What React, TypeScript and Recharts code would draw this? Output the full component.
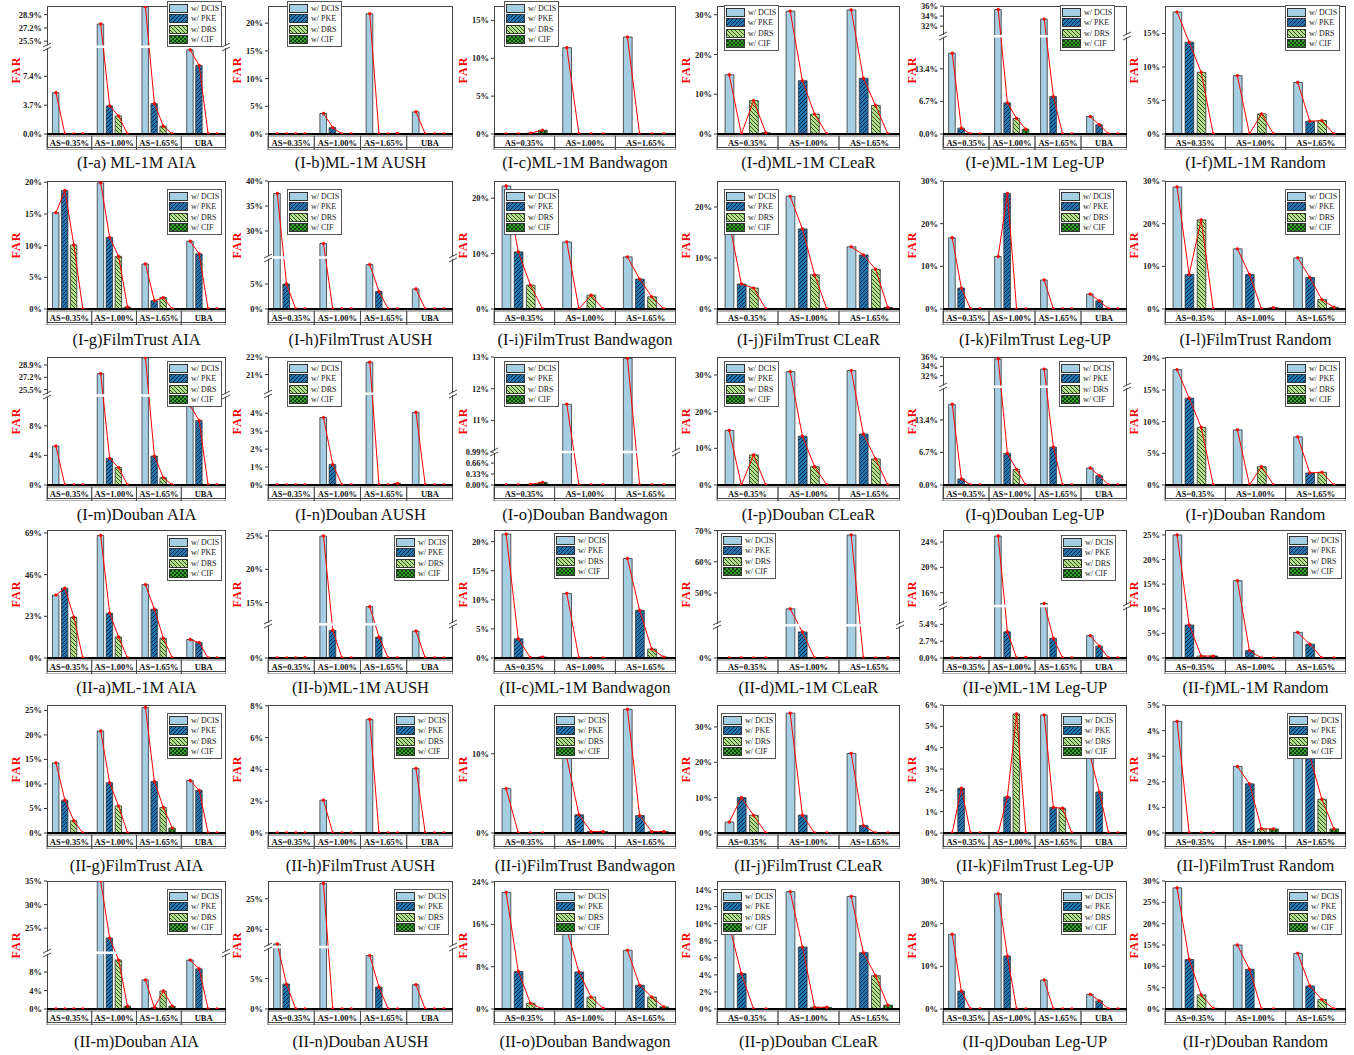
import { ComposedChart, Bar, Line, XAxis, YAxis, Cell, ReferenceLine } from 'recharts';

const FONT = '"Liberation Serif", "Times New Roman", serif';

const CATEGORIES = ['AS=0.35%', 'AS=1.00%', 'AS=1.65%', 'UBA'];
const METHODS = ['w/ DCIS', 'w/ PKE', 'w/ DRS', 'w/ CIF'];
const FILLS = ['#a6cee3', 'url(#hatch-pke)', 'url(#hatch-drs)', 'url(#hatch-cif)'];

// FAR (%) per attack size, each row: [w/ DCIS, w/ PKE, w/ DRS, w/ CIF]
const I_A = [[5.3, 0, 0, 0], [27.7, 3.6, 2.3, 0], [29.9, 3.9, 1.0, 0], [10.8, 8.8, 0, 0]];
const I_B = [[0, 0, 0, 0], [3.7, 1.15, 0, 0], [21.7, 0, 0, 0.1], [4.0, 0, 0, 0]];
const I_C = [[0, 0, 0.1, 0.5], [11.4, 0, 0, 0], [12.8, 0, 0, 0]];
const I_D = [[14.9, 0, 8.4, 0.3], [30.9, 13.4, 5.0, 0], [31.2, 14.0, 7.2, 0]];
const I_E = [[16.6, 1.2, 0, 0], [35.3, 6.4, 3.2, 1.0], [33.4, 7.7, 0, 0], [3.6, 1.9, 0, 0]];
const I_F = [[18.2, 13.7, 9.2, 0], [8.7, 0, 3.0, 0], [7.7, 1.9, 2.0, 0]];
const I_G = [[15.2, 18.7, 10.1, 0], [19.9, 11.3, 8.3, 0.3], [7.1, 1.3, 1.8, 0], [10.7, 8.7, 0, 0]];
const I_H = [[37.5, 5.0, 0, 0], [27.5, 0, 0, 0], [8.9, 3.5, 0, 0], [4.0, 0, 0, 0]];
const I_I = [[22.2, 10.3, 4.3, 0], [12.1, 0, 2.5, 0], [9.4, 5.4, 2.2, 0]];
const I_J = [[17.0, 4.9, 4.1, 0], [22.1, 15.7, 6.7, 0], [12.2, 10.6, 7.8, 0.3]];
const I_K = [[16.7, 4.9, 0, 0], [12.3, 27.1, 0, 0], [6.8, 0, 0, 0], [3.5, 1.9, 0, 0]];
const I_L = [[28.6, 8.1, 20.9, 0], [14.1, 8.1, 0, 0.3], [12.0, 7.4, 2.2, 0.4]];
const I_M = [[5.25, 0, 0, 0], [27.7, 3.6, 2.35, 0], [29.9, 3.9, 1.0, 0], [10.7, 8.7, 0, 0]];
const I_N = [[0, 0, 0, 0], [3.76, 1.14, 0, 0], [21.7, 0, 0, 0.09], [4.05, 0, 0, 0]];
const I_O = [[0, 0, 0.02, 0.08], [11.51, 0, 0, 0], [12.96, 0, 0, 0]];
const I_P = [[14.9, 0, 8.2, 0], [30.9, 13.3, 5.0, 0], [31.2, 13.9, 7.1, 0]];
const I_Q = [[16.6, 1.25, 0, 0], [35.6, 6.5, 3.2, 0], [33.4, 7.8, 0, 0], [3.5, 1.9, 0, 0]];
const I_R = [[18.2, 13.7, 9.1, 0], [8.7, 0, 2.9, 0], [7.6, 1.9, 2.0, 0]];
const II_A = [[34.7, 38.5, 22.5, 0], [67.6, 24.7, 11.6, 0], [40.5, 26.9, 10.9, 0], [10.2, 8.5, 0, 0]];
const II_B = [[0, 0, 0, 0.05], [25.0, 4.1, 0, 0], [14.4, 3.1, 0, 0], [4.0, 0, 0, 0]];
const II_C = [[21.3, 3.3, 0.05, 0.15], [11.1, 0, 0, 0], [17.1, 8.2, 1.55, 0.15]];
const II_D = [[0, 0, 0, 0], [44.9, 8.3, 0, 0], [68.6, 0, 0, 0.1]];
const II_E = [[0, 0, 0, 0.1], [24.95, 4.2, 0, 0.1], [14.3, 3.15, 0, 0], [3.6, 1.9, 0, 0]];
const II_F = [[25.0, 6.7, 0.4, 0.4], [15.7, 1.5, 0, 0], [5.2, 2.8, 0, 0]];
const II_G = [[14.3, 6.7, 2.5, 0], [20.8, 10.25, 5.5, 0], [25.6, 10.5, 5.2, 1.0], [10.7, 8.7, 0, 0]];
const II_H = [[0, 0, 0, 0], [2.06, 0, 0, 0], [7.15, 0, 0, 0], [4.06, 0, 0, 0]];
const II_I = [[5.6, 0, 0, 0], [9.5, 2.3, 0.17, 0.17], [15.6, 2.2, 0.17, 0.17]];
const II_J = [[3.1, 10.0, 5.0, 0], [33.9, 5.05, 0, 0], [22.5, 2.1, 0, 0]];
const II_K = [[0, 2.1, 0, 0], [0, 1.69, 5.58, 0], [5.53, 1.2, 1.16, 0], [3.6, 1.92, 0, 0]];
const II_L = [[4.36, 0, 0, 0], [2.6, 1.92, 0.16, 0.16], [3.3, 3.0, 1.32, 0.16]];
const II_M = [[0, 0, 0, 0], [35.0, 22.9, 10.6, 0.6], [6.3, 0.3, 3.9, 0.6], [10.6, 8.7, 0, 0]];
const II_N = [[17.6, 4.1, 0, 0], [27.5, 0, 0, 0], [8.8, 3.6, 0, 0], [4.0, 0, 0, 0]];
const II_O = [[22.05, 7.1, 1.1, 0], [15.0, 7.0, 2.25, 0.1], [11.1, 4.5, 2.25, 0.4]];
const II_P = [[9.8, 4.15, 0, 0], [13.75, 7.26, 0.2, 0.2], [13.2, 6.6, 3.9, 0.45]];
const II_Q = [[17.5, 4.2, 0, 0], [27.0, 12.4, 0, 0], [6.8, 0, 0, 0], [3.45, 1.9, 0, 0]];
const II_R = [[28.4, 11.6, 3.3, 0.15], [15.0, 9.3, 0, 0], [13.05, 5.4, 2.2, 0]];

// y tick labels
const Y_I_A = ['0.0%', '3.7%', '7.4%', '25.5%', '27.2%', '28.9%'];
const Y_I_B = ['0%', '5%', '10%', '15%', '20%'];
const Y_I_C = ['0%', '5%', '10%', '15%'];
const Y_I_D = ['0%', '10%', '20%', '30%'];
const Y_I_E = ['0.0%', '6.7%', '13.4%', '32%', '34%', '36%'];
const Y_I_F = ['0%', '5%', '10%', '15%'];
const Y_I_G = ['0%', '5%', '10%', '15%', '20%'];
const Y_I_H = ['0%', '5%', '30%', '35%', '40%'];
const Y_I_I = ['0%', '10%', '20%'];
const Y_I_J = ['0%', '10%', '20%'];
const Y_I_K = ['0%', '10%', '20%', '30%'];
const Y_I_L = ['0%', '10%', '20%', '30%'];
const Y_I_M = ['0%', '4%', '8%', '25.5%', '27.2%', '28.9%'];
const Y_I_N = ['0%', '1%', '2%', '3%', '4%', '21%', '22%'];
const Y_I_O = ['0.00%', '0.33%', '0.66%', '0.99%', '11%', '12%', '13%'];
const Y_I_P = ['0%', '10%', '20%', '30%'];
const Y_I_Q = ['0.0%', '6.7%', '13.4%', '32%', '34%', '36%'];
const Y_I_R = ['0%', '5%', '10%', '15%', '20%'];
const Y_II_A = ['0%', '23%', '46%', '69%'];
const Y_II_B = ['0%', '15%', '20%', '25%'];
const Y_II_C = ['0%', '5%', '10%', '15%', '20%'];
const Y_II_D = ['0%', '50%', '60%', '70%'];
const Y_II_E = ['0.0%', '2.7%', '5.4%', '16%', '20%', '24%'];
const Y_II_F = ['0%', '5%', '10%', '15%', '20%', '25%'];
const Y_II_G = ['0%', '5%', '10%', '15%', '20%', '25%'];
const Y_II_H = ['0%', '2%', '4%', '6%', '8%'];
const Y_II_I = ['0%', '10%'];
const Y_II_J = ['0%', '10%', '20%', '30%'];
const Y_II_K = ['0%', '1%', '2%', '3%', '4%', '5%', '6%'];
const Y_II_L = ['0%', '1%', '2%', '3%', '4%', '5%'];
const Y_II_M = ['0%', '4%', '8%', '25%', '30%', '35%'];
const Y_II_N = ['0%', '5%', '20%', '25%'];
const Y_II_O = ['0%', '8%', '16%', '24%'];
const Y_II_P = ['0%', '2%', '4%', '6%', '8%', '10%', '12%', '14%'];
const Y_II_Q = ['0%', '10%', '20%', '30%'];
const Y_II_R = ['0%', '5%', '10%', '15%', '20%', '25%', '30%'];

// top = axis max, brk = [lower end, upper start, fraction of height where the break sits]
const PANELS = [
  { title: '(I-a) ML-1M AIA', data: I_A, yTicks: Y_I_A, top: 30, brk: [11.2, 24.8, 0.682], legend: [120, -5] },
  { title: '(I-b)ML-1M AUSH', data: I_B, yTicks: Y_I_B, top: 23.1, legend: [19, -5] },
  { title: '(I-c)ML-1M Bandwagon', data: I_C, yTicks: Y_I_C, top: 16.9, legend: [10, -5] },
  { title: '(I-d)ML-1M CLeaR', data: I_D, yTicks: Y_I_D, top: 32.2, legend: [7, -1] },
  { title: '(I-e)ML-1M Leg-UP', data: I_E, yTicks: Y_I_E, top: 36, brk: [20.1, 30.0, 0.764], legend: [117, -1] },
  { title: '(I-f)ML-1M Random', data: I_F, yTicks: Y_I_F, top: 19.1, legend: [120, -1] },
  { title: '(I-g)FilmTrust AIA', data: I_G, yTicks: Y_I_G, top: 20.2, legend: [120, 8] },
  { title: '(I-h)FilmTrust AUSH', data: I_H, yTicks: Y_I_H, top: 40, brk: [10.3, 24.7, 0.402], legend: [19, 8] },
  { title: '(I-i)FilmTrust Bandwagon', data: I_I, yTicks: Y_I_I, top: 23.1, legend: [10, 8] },
  { title: '(I-j)FilmTrust CLeaR', data: I_J, yTicks: Y_I_J, top: 25.1, legend: [7, 8] },
  { title: '(I-k)FilmTrust Leg-UP', data: I_K, yTicks: Y_I_K, top: 30, legend: [116, 8] },
  { title: '(I-l)FilmTrust Random', data: I_L, yTicks: Y_I_L, top: 30, legend: [120, 8] },
  { title: '(I-m)Douban AIA', data: I_M, yTicks: Y_I_M, top: 30, brk: [12.1, 24.7, 0.7], legend: [120, 4] },
  { title: '(I-n)Douban AUSH', data: I_N, yTicks: Y_I_N, top: 22, brk: [5.08, 19.9, 0.712], legend: [19, 4] },
  { title: '(I-o)Douban Bandwagon', data: I_O, yTicks: Y_I_O, top: 13, brk: [0.99, 10.0, 0.257], legend: [10, 4] },
  { title: '(I-p)Douban CLeaR', data: I_P, yTicks: Y_I_P, top: 34.9, legend: [7, 4] },
  { title: '(I-q)Douban Leg-UP', data: I_Q, yTicks: Y_I_Q, top: 36, brk: [20.2, 29.6, 0.767], legend: [116, 4] },
  { title: '(I-r)Douban Random', data: I_R, yTicks: Y_I_R, top: 20.2, legend: [120, 4] },
  { title: '(II-a)ML-1M AIA', data: II_A, yTicks: Y_II_A, top: 70.6, legend: [120, 5] },
  { title: '(II-b)ML-1M AUSH', data: II_B, yTicks: Y_II_B, top: 25.9, brk: [5.0, 11.75, 0.263], legend: [126, 5] },
  { title: '(II-c)ML-1M Bandwagon', data: II_C, yTicks: Y_II_C, top: 22, legend: [60, 3] },
  { title: '(II-d)ML-1M CLeaR', data: II_D, yTicks: Y_II_D, top: 70.2, brk: [10.4, 39.6, 0.255], legend: [4, 3] },
  { title: '(II-e)ML-1M Leg-UP', data: II_E, yTicks: Y_II_E, top: 25.9, brk: [8.34, 13.9, 0.406], legend: [118, 5] },
  { title: '(II-f)ML-1M Random', data: II_F, yTicks: Y_II_F, top: 26, legend: [122, 3] },
  { title: '(II-g)FilmTrust AIA', data: II_G, yTicks: Y_II_G, top: 26.1, legend: [120, 8] },
  { title: '(II-h)FilmTrust AUSH', data: II_H, yTicks: Y_II_H, top: 8.05, legend: [126, 8] },
  { title: '(II-i)FilmTrust Bandwagon', data: II_I, yTicks: Y_II_I, top: 16.15, legend: [60, 8] },
  { title: '(II-j)FilmTrust CLeaR', data: II_J, yTicks: Y_II_J, top: 36.2, legend: [4, 8] },
  { title: '(II-k)FilmTrust Leg-UP', data: II_K, yTicks: Y_II_K, top: 6.0, legend: [118, 8] },
  { title: '(II-l)FilmTrust Random', data: II_L, yTicks: Y_II_L, top: 5.0, legend: [122, 8] },
  { title: '(II-m)Douban AIA', data: II_M, yTicks: Y_II_M, top: 35, brk: [12.2, 19.8, 0.44], legend: [120, 8] },
  { title: '(II-n)Douban AUSH', data: II_N, yTicks: Y_II_N, top: 27.9, brk: [10.2, 17.1, 0.484], legend: [126, 8] },
  { title: '(II-o)Douban Bandwagon', data: II_O, yTicks: Y_II_O, top: 24.2, legend: [60, 8] },
  { title: '(II-p)Douban CLeaR', data: II_P, yTicks: Y_II_P, top: 15.0, legend: [4, 8] },
  { title: '(II-q)Douban Leg-UP', data: II_Q, yTicks: Y_II_Q, top: 30, legend: [118, 8] },
  { title: '(II-r)Douban Random', data: II_R, yTicks: Y_II_R, top: 30, legend: [122, 8] },
];

// page layout
const COL_X = [47, 268, 494, 717, 943, 1165];
const COL_W = [179, 185, 182, 183, 184, 181];
const ROW_Y = [6, 181, 357, 530, 705, 881];
const TITLE_Y = [163, 340, 515, 688, 866, 1042];
const PLOT_H = 128;
const AXIS_W = 45;
const CAT_H = 14;
const PAD_T = 6; // room above the plot so the top tick label is not clipped

// broken-axis mapping onto [0, 1]
const makeScale = (top: number, brk?: number[]) => (v: number) => {
  if (!brk) return v / top;
  const [lo, hi, f] = brk;
  if (v <= lo) return (v / lo) * f;
  if (v >= hi) return f + ((v - hi) / (top - hi)) * (1 - f);
  return f;
};

function CatTick({ x, y, payload, bw }: any) {
  const k = Math.round((payload.value - 2.5) / 5);
  return (
    <g>
      <rect x={x - bw / 2} y={y} width={bw} height={CAT_H} fill="none" stroke="#444" strokeWidth={0.8} />
      <text x={x} y={y + 10} textAnchor="middle" fontSize={8.5} fontWeight="bold" fontFamily={FONT} fill="#111">
        {CATEGORIES[k]}
      </text>
    </g>
  );
}

function LegendBox({ x, y }: { x: number; y: number }) {
  return (
    <div style={{ position: 'absolute', left: x, top: y, width: 55, height: 46, border: '1.5px solid #555', background: '#fff', boxSizing: 'border-box', fontFamily: FONT, fontSize: 8 }}>
      {METHODS.map((name, i) => (
        <div key={name} style={{ position: 'absolute', left: 1, top: 1.5 + i * 10.6, height: 9, display: 'flex', alignItems: 'center' }}>
          <svg width={19} height={9} style={{ display: 'block' }}>
            <rect x={0.5} y={0.5} width={18} height={8} fill={FILLS[i]} stroke="#333" strokeWidth={1} />
          </svg>
          <span style={{ marginLeft: 3, color: '#222', lineHeight: '9px', whiteSpace: 'nowrap' }}>{name}</span>
        </div>
      ))}
    </div>
  );
}

function BreakMark({ x, y }: { x: number; y: number }) {
  return (
    <svg width={10} height={10} style={{ position: 'absolute', left: x - 5, top: y - 5 }}>
      <path d="M1,5 L9,1 M1,9 L9,5" stroke="#333" strokeWidth={0.9} fill="none" />
    </svg>
  );
}

function Panel({ cfg, col, row }: any) {
  const left = COL_X[col];
  const top = ROW_Y[row];
  const W = COL_W[col];
  const n = cfg.data.length;
  const tf = makeScale(cfg.top, cfg.brk);

  const rows: any[] = [];
  cfg.data.forEach((vals: number[], k: number) =>
    vals.forEach((val, m) => {
      const r: any = { x: k * 5 + m + 1, v: tf(val), m };
      r['c' + k] = tf(val);
      rows.push(r);
    })
  );
  const tickVals = cfg.yTicks.map((s: string) => tf(parseFloat(s)));
  const unit = W / (n * 5);
  const bw = unit * 5;
  const catTicks = cfg.data.map((_: any, k: number) => k * 5 + 2.5);
  const breakY = cfg.brk ? top + PLOT_H * (1 - cfg.brk[2]) : 0;

  return (
    <>
      <div style={{ position: 'absolute', left, top, width: W, height: PLOT_H + CAT_H, border: '1px solid #444', boxSizing: 'border-box' }} />
      <div style={{ position: 'absolute', left: left - AXIS_W, top: top - PAD_T }}>
        <ComposedChart width={AXIS_W + W} height={PAD_T + PLOT_H + CAT_H + 2} data={rows} margin={{ top: PAD_T, right: 0, bottom: 0, left: 0 }}>
          <XAxis
            dataKey="x"
            type="number"
            domain={[0, n * 5]}
            ticks={catTicks}
            interval={0}
            allowDataOverflow
            height={CAT_H + 2}
            tickSize={0}
            tickLine={false}
            axisLine={{ stroke: '#000', strokeWidth: 2 }}
            tick={(p: any) => <CatTick {...p} bw={bw} />}
          />
          <YAxis
            type="number"
            domain={[0, 1]}
            ticks={tickVals}
            interval={0}
            allowDataOverflow
            width={AXIS_W}
            axisLine={false}
            tickSize={3}
            tickLine={{ stroke: '#333' }}
            tick={{ fontSize: 8.5, fontWeight: 'bold', fill: '#222', fontFamily: FONT }}
            tickFormatter={(v: number) => cfg.yTicks[tickVals.findIndex((t: number) => Math.abs(t - v) < 1e-6)]}
            label={{ value: 'FAR', angle: -90, position: 'insideLeft', offset: 14, style: { textAnchor: 'middle', fill: '#ff0000', fontWeight: 'bold', fontSize: 12, fontFamily: FONT, letterSpacing: 1 } }}
          />
          <Bar dataKey="v" barSize={unit * 0.72} isAnimationActive={false}>
            {rows.map((r, i) => (
              <Cell key={i} fill={FILLS[r.m]} stroke="#333" strokeWidth={0.8} />
            ))}
          </Bar>
          {cfg.data.map((_: any, k: number) => (
            <Line
              key={k}
              dataKey={'c' + k}
              type="linear"
              stroke="#ff0000"
              strokeWidth={1}
              dot={{ r: 1.4, fill: '#ff0000', stroke: '#ff0000', strokeWidth: 0.5 }}
              activeDot={false}
              isAnimationActive={false}
            />
          ))}
          {cfg.brk && <ReferenceLine y={cfg.brk[2]} stroke="#fff" strokeWidth={2.5} />}
        </ComposedChart>
      </div>
      {cfg.brk && <BreakMark x={left} y={breakY} />}
      {cfg.brk && <BreakMark x={left + W} y={breakY} />}
      <LegendBox x={left + cfg.legend[0]} y={top + cfg.legend[1]} />
      <div style={{ position: 'absolute', left: left + W / 2 - 150, width: 300, top: TITLE_Y[row] - 10, textAlign: 'center', fontSize: 16.5, fontFamily: FONT, lineHeight: '20px', whiteSpace: 'nowrap', color: '#111' }}>
        {cfg.title}
      </div>
    </>
  );
}

export default function App() {
  return (
    <div style={{ position: 'absolute', left: 0, top: 0, width: 1354, height: 1055, background: '#fff', overflow: 'hidden', fontFamily: FONT }}>
      <svg width={0} height={0} style={{ position: 'absolute' }}>
        <defs>
          <pattern id="hatch-pke" width={4} height={4} patternUnits="userSpaceOnUse">
            <rect width={4} height={4} fill="#1f78b4" />
            <path d="M-1,1 L1,-1 M0,4 L4,0 M3,5 L5,3" stroke="#0b2540" strokeWidth={1} />
          </pattern>
          <pattern id="hatch-drs" width={4} height={4} patternUnits="userSpaceOnUse">
            <rect width={4} height={4} fill="#b2df8a" />
            <path d="M-1,3 L1,5 M0,0 L4,4 M3,-1 L5,1" stroke="#2b3d1a" strokeWidth={0.9} />
          </pattern>
          <pattern id="hatch-cif" width={4} height={4} patternUnits="userSpaceOnUse">
            <rect width={4} height={4} fill="#33a02c" />
            <path d="M0,0 L4,4 M0,4 L4,0" stroke="#0a2a0a" strokeWidth={0.8} />
          </pattern>
        </defs>
      </svg>
      {PANELS.map((cfg, i) => (
        <Panel key={cfg.title} cfg={cfg} col={i % 6} row={Math.floor(i / 6)} />
      ))}
    </div>
  );
}
